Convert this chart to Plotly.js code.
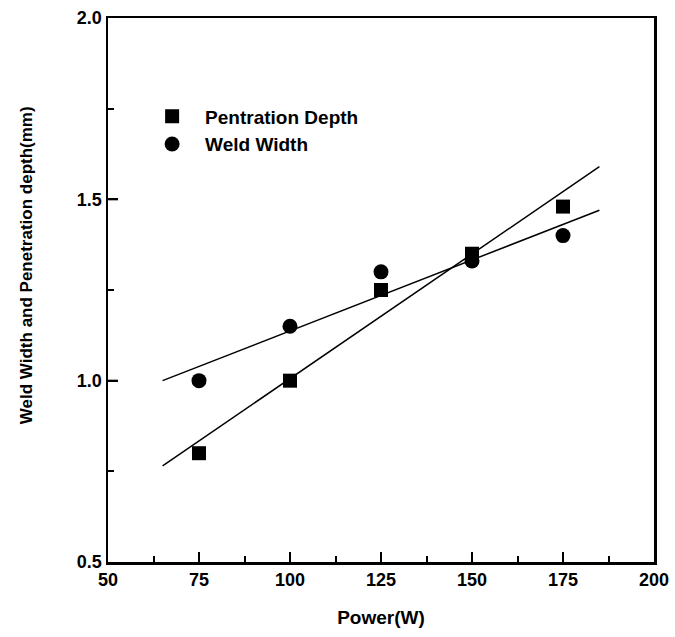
<!DOCTYPE html>
<html>
<head>
<meta charset="utf-8">
<script src="https://cdn.plot.ly/plotly-3.0.1.min.js"></script>
<style>html,body{margin:0;padding:0;background:#fff;}#chart{width:675px;height:637px;}</style>
</head>
<body>
<div id="chart"></div>
<script>
const power = [75, 100, 125, 150, 175];
const penetrationDepth = [0.80, 1.00, 1.25, 1.35, 1.48];
const weldWidth = [1.00, 1.15, 1.30, 1.33, 1.40];
const fitX = [65, 185];
const depthFit = [0.765, 1.59];
const widthFit = [1.00, 1.47];
const xMajorTicks = [75, 100, 125, 150, 175];
const yMajorTicks = [1.0, 1.5];
const xTitle = 'Power(W)';
const yTitle = 'Weld Width and Penetration depth(mm)';

const font = {family: '"Liberation Sans", Arial, sans-serif', color: '#000', weight: 'bold'};
const f = s => Object.assign({size: s}, font);
const clear = 'rgba(0,0,0,0)';

const traces = [
  {x: fitX, y: depthFit, mode: 'lines', line: {color: '#000', width: 1.5}, showlegend: false, hoverinfo: 'skip'},
  {x: fitX, y: widthFit, mode: 'lines', line: {color: '#000', width: 1.5}, showlegend: false, hoverinfo: 'skip'},
  {x: power, y: penetrationDepth, mode: 'markers', name: 'Pentration Depth',
   marker: {symbol: 'square', size: 14, color: '#000'}},
  {x: power, y: weldWidth, mode: 'markers', name: 'Weld Width',
   marker: {symbol: 'circle', size: 15, color: '#000'}}
];

// major tick marks drawn as pixel-sized shapes anchored on the axes
const tickShapes = [
  ...xMajorTicks.map(v => ({type: 'line', xref: 'x', yref: 'paper', x0: v, x1: v,
    ysizemode: 'pixel', yanchor: 0, y0: 0, y1: 10, line: {color: '#000', width: 2}})),
  ...yMajorTicks.map(v => ({type: 'line', xref: 'paper', yref: 'y', y0: v, y1: v,
    xsizemode: 'pixel', xanchor: 0, x0: 0, x1: 10, line: {color: '#000', width: 2}}))
];

const layout = {
  width: 675, height: 637,
  margin: {l: 108, r: 21, t: 18, b: 75},
  font: f(16),
  showlegend: true,
  legend: {x: 0.057, y: 0.854, xanchor: 'left', yanchor: 'top', bgcolor: clear,
           font: f(19), itemwidth: 56, tracegroupgap: 0},
  xaxis: {
    range: [50, 200], dtick: 25,
    ticks: 'inside', ticklen: 10, tickwidth: 2, tickcolor: '#000',
    minor: {dtick: 12.5, ticks: 'inside', ticklen: 6, tickwidth: 2, tickcolor: '#000', showgrid: false},
    showline: true, linewidth: 2.5, linecolor: '#000', mirror: true,
    showgrid: false, zeroline: false,
    tickfont: f(18),
    title: {text: xTitle, font: f(19), standoff: 22}
  },
  yaxis: {
    range: [0.5, 2.0], dtick: 0.5, tickformat: '.1f',
    ticks: 'inside', ticklen: 10, tickwidth: 2, tickcolor: '#000',
    minor: {dtick: 0.25, ticks: 'inside', ticklen: 6, tickwidth: 2, tickcolor: '#000', showgrid: false},
    showline: true, linewidth: 2.5, linecolor: '#000', mirror: true,
    showgrid: false, zeroline: false,
    tickfont: f(18)
  },
  shapes: tickShapes,
  annotations: [{
    text: yTitle, xref: 'paper', yref: 'paper', x: -0.148, y: 0.546,
    xanchor: 'center', yanchor: 'middle', textangle: -90, showarrow: false, font: f(17)
  }]
};

Plotly.newPlot('chart', traces, layout, {displayModeBar: false, staticPlot: true});
</script>
</body>
</html>
